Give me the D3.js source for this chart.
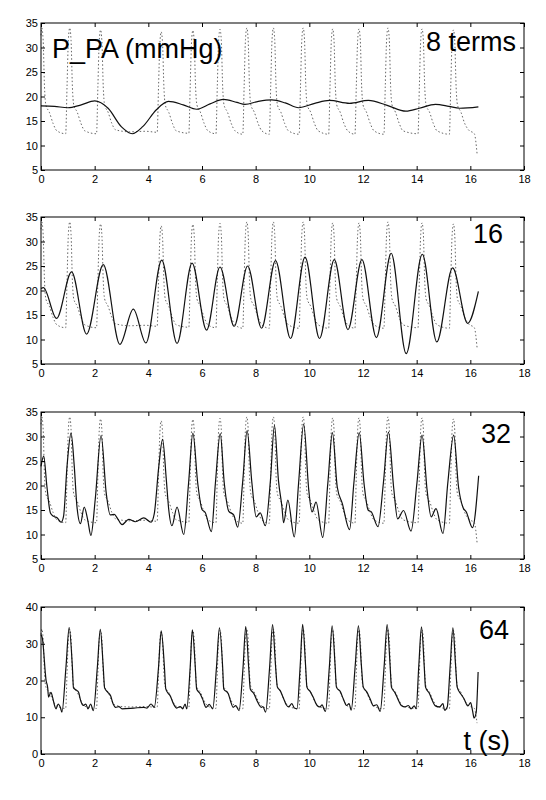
<!DOCTYPE html>
<html>
<head>
<meta charset="utf-8">
<script src="https://cdn.jsdelivr.net/npm/d3@7"></script>
<style>
  body { margin: 0; background: #fff; }
  svg text { font-family: "Liberation Sans", Arial, sans-serif; fill: #000; }
</style>
</head>
<body>
<div id="chart"></div>
<script>
// x ticks (time, s)
const tTicks = [0, 2, 4, 6, 8, 10, 12, 14, 16, 18];
const yTicksA = [5, 10, 15, 20, 25, 30, 35];
const yTicksB = [0, 10, 20, 30, 40];

// measured pressure (dotted trace), [t, mmHg]
const measured = [
  [0, 32.5], [0.03, 34.0], [0.08, 31.5], [0.13, 22], [0.18, 18.3], [0.31, 16.8], [0.45, 14.5], [0.59, 13.0], [0.92, 12.4],
  [0.97, 22], [1.02, 31.5], [1.07, 34.0], [1.12, 31.5], [1.17, 22], [1.22, 18.3], [1.35, 16.8], [1.49, 14.5], [1.63, 13.0], [2.07, 12.4],
  [2.12, 22], [2.17, 31.2], [2.22, 33.6], [2.27, 31.2], [2.32, 22], [2.37, 18.3], [2.5, 16.8], [2.64, 14.5], [2.78, 13.2], [3.3, 12.8], [3.9, 12.9], [4.33, 12.7],
  [4.38, 22], [4.43, 30.8], [4.48, 33.2], [4.53, 30.8], [4.58, 22], [4.63, 18.3], [4.76, 16.8], [4.9, 14.5], [5.04, 13.0], [5.51, 12.5],
  [5.56, 22], [5.61, 31.2], [5.66, 33.5], [5.71, 31.2], [5.76, 22], [5.81, 18.3], [5.94, 16.8], [6.08, 14.5], [6.22, 13.0], [6.52, 12.4],
  [6.57, 22], [6.62, 31.4], [6.67, 33.7], [6.72, 31.4], [6.77, 22], [6.82, 18.3], [6.95, 16.8], [7.09, 14.5], [7.23, 13.0], [7.52, 12.3],
  [7.57, 22], [7.62, 31.6], [7.67, 34.0], [7.72, 31.6], [7.77, 22], [7.82, 18.3], [7.95, 16.8], [8.09, 14.5], [8.23, 13.0], [8.51, 12.3],
  [8.56, 22], [8.61, 31.6], [8.66, 34.0], [8.71, 31.6], [8.76, 22], [8.81, 18.3], [8.94, 16.8], [9.08, 14.5], [9.22, 13.0], [9.62, 12.3],
  [9.67, 22], [9.72, 31.6], [9.77, 34.0], [9.82, 31.6], [9.87, 22], [9.92, 18.3], [10.05, 16.8], [10.19, 14.5], [10.33, 13.0], [10.72, 12.3],
  [10.77, 22], [10.82, 31.4], [10.87, 33.8], [10.92, 31.4], [10.97, 22], [11.02, 18.3], [11.15, 16.8], [11.29, 14.5], [11.43, 13.0], [11.7, 12.3],
  [11.75, 22], [11.8, 31.4], [11.85, 33.8], [11.9, 31.4], [11.95, 22], [12.0, 18.3], [12.13, 16.8], [12.27, 14.5], [12.41, 13.0], [12.78, 12.3],
  [12.83, 22], [12.88, 31.6], [12.93, 34.0], [12.98, 31.6], [13.03, 22], [13.08, 18.3], [13.21, 16.8], [13.35, 14.5], [13.49, 13.0], [14.05, 12.4],
  [14.1, 22], [14.15, 31.4], [14.2, 33.8], [14.25, 31.4], [14.3, 22], [14.35, 18.3], [14.48, 16.8], [14.62, 14.5], [14.76, 13.0], [15.22, 12.3],
  [15.27, 22], [15.32, 31.2], [15.37, 33.6], [15.42, 31.2], [15.47, 22], [15.52, 18.3], [15.65, 16.8], [15.79, 14.5], [15.93, 13.2], [16.15, 12.4], [16.25, 8.4]
];

// fourier reconstructions (solid traces)
const terms8 = [
  [0, 18.1], [0.5, 18.0], [1.0, 17.7], [1.5, 18.3], [2.0, 19.1], [2.5, 17.6], [3.0, 13.8], [3.4, 12.4], [3.8, 13.9],
  [4.3, 17.3], [4.75, 19.0], [5.3, 18.3], [5.8, 17.4], [6.3, 18.5], [6.8, 19.4], [7.3, 18.8], [7.6, 18.4], [8.1, 19.0],
  [8.6, 19.3], [9.1, 18.7], [9.6, 17.7], [10.2, 18.6], [10.75, 19.2], [11.5, 18.6], [12.2, 19.2], [12.9, 18.2],
  [13.6, 17.0], [14.1, 17.6], [14.7, 18.4], [15.2, 18.0], [15.6, 17.6], [16.3, 17.9]
];

const terms16 = [
  [0, 20.4], [0.09, 20.6], [0.58, 14.3], [1.14, 23.8], [1.7, 11.1], [2.32, 25.3], [2.94, 9.0], [3.44, 16.2],
  [3.91, 9.3], [4.5, 26.2], [5.07, 9.2], [5.63, 25.6], [6.17, 11.9], [6.67, 24.8], [7.2, 12.7], [7.7, 25.0],
  [8.22, 12.3], [8.74, 26.1], [9.3, 10.2], [9.84, 26.8], [10.38, 10.2], [10.93, 26.3], [11.44, 12.0], [11.96, 26.3],
  [12.5, 10.4], [13.05, 27.6], [13.61, 7.1], [14.21, 27.4], [14.75, 9.5], [15.34, 24.6], [15.9, 13.3], [16.3, 19.8]
];

const terms32 = [
  [0, 23.9], [0.1, 26.0], [0.22, 19.8], [0.35, 14.4], [0.47, 13.7], [0.6, 13.4], [0.75, 12.5], [0.84, 13.7],
  [0.97, 23.9], [1.12, 30.7], [1.24, 23.9], [1.34, 15.7], [1.47, 12.2], [1.61, 15.6], [1.74, 13.0], [1.86, 9.8],
  [2.02, 17.1], [2.24, 30.2], [2.43, 18.5], [2.58, 14.0], [2.73, 14.1], [2.86, 13.2], [3.02, 12.0], [3.27, 13.1],
  [3.52, 12.6], [3.83, 13.4], [4.1, 12.5], [4.22, 14.2], [4.39, 23.9], [4.53, 29.4], [4.67, 21.2], [4.76, 15.1],
  [4.88, 11.8], [5.07, 15.6], [5.32, 10.0], [5.5, 20.5], [5.66, 30.7], [5.84, 20.5], [6.0, 15.1], [6.12, 14.5],
  [6.35, 10.6], [6.5, 20.5], [6.68, 30.6], [6.83, 20.5], [7.0, 14.7], [7.18, 14.0], [7.33, 11.5], [7.52, 21.0],
  [7.68, 31.2], [7.86, 20.5], [8.02, 13.6], [8.17, 14.4], [8.36, 11.8], [8.55, 21.0], [8.7, 32.3], [8.85, 21.0],
  [8.98, 15.6], [9.04, 12.4], [9.2, 17.0], [9.44, 9.5], [9.6, 20.5], [9.79, 32.5], [9.98, 19.0], [10.1, 14.6],
  [10.25, 16.6], [10.5, 9.4], [10.69, 20.5], [10.86, 30.8], [11.04, 19.7], [11.23, 16.3], [11.5, 11.0], [11.66, 20.5],
  [11.86, 30.8], [12.04, 20.3], [12.19, 15.0], [12.31, 14.6], [12.56, 11.6], [12.76, 20.5], [12.95, 30.9], [13.14, 19.7],
  [13.29, 13.2], [13.51, 14.9], [13.79, 10.7], [14.01, 20.5], [14.2, 30.3], [14.39, 19.0], [14.54, 13.6], [14.72, 15.3],
  [14.98, 10.2], [15.16, 20.5], [15.38, 30.3], [15.56, 19.7], [15.72, 15.6], [15.85, 14.6], [16.08, 11.4], [16.31, 22.0]
];

const terms64 = [
  [0, 32.5], [0.05, 31.5], [0.19, 20.0], [0.25, 18.0], [0.28, 15.5], [0.37, 16.8], [0.43, 15.5], [0.49, 13.6],
  [0.56, 12.3], [0.64, 13.6], [0.72, 12.7], [0.78, 11.4], [0.93, 23.6], [1.05, 34.4], [1.17, 23.6], [1.21, 18.0],
  [1.33, 17.3], [1.4, 16.8], [1.48, 14.5], [1.58, 13.2], [1.67, 13.6], [1.75, 12.3], [1.85, 13.6], [1.95, 11.8],
  [2.1, 23.6], [2.21, 33.9], [2.32, 23.6], [2.37, 18.0], [2.49, 16.8], [2.59, 15.9], [2.69, 13.6], [2.78, 12.7],
  [2.9, 12.9], [3.02, 12.3], [3.46, 12.5], [3.83, 12.7], [3.95, 12.5], [4.1, 13.6], [4.22, 12.7], [4.38, 23.6],
  [4.48, 33.5], [4.6, 23.6], [4.65, 17.7], [4.75, 16.4], [4.81, 15.9], [4.94, 13.6], [5.06, 12.5], [5.19, 12.9],
  [5.28, 12.3], [5.37, 13.6], [5.43, 12.3], [5.56, 23.6], [5.64, 33.8], [5.75, 23.6], [5.8, 17.7], [5.93, 16.4],
  [6.02, 15.0], [6.15, 12.7], [6.27, 13.5], [6.4, 12.3], [6.54, 23.6], [6.65, 34.3], [6.77, 23.6], [6.81, 17.7],
  [6.98, 16.4], [7.06, 14.5], [7.16, 12.7], [7.26, 13.2], [7.38, 11.8], [7.53, 23.6], [7.63, 34.7], [7.74, 23.6],
  [7.8, 17.7], [7.93, 16.5], [8.05, 14.5], [8.21, 12.7], [8.27, 12.9], [8.37, 11.4], [8.52, 23.6], [8.63, 35.2],
  [8.74, 24.1], [8.81, 18.2], [8.91, 17.3], [9.04, 15.1], [9.14, 13.4], [9.22, 12.8], [9.35, 13.7], [9.44, 12.5],
  [9.54, 12.3], [9.66, 24.1], [9.75, 35.3], [9.86, 24.1], [9.91, 18.2], [10.04, 16.9], [10.14, 15.5], [10.29, 13.2],
  [10.39, 12.8], [10.48, 13.4], [10.54, 12.3], [10.6, 11.6], [10.75, 24.1], [10.85, 34.9], [10.96, 24.1], [11.01, 18.2],
  [11.16, 16.9], [11.26, 15.1], [11.39, 13.2], [11.48, 13.7], [11.56, 11.9], [11.71, 24.1], [11.83, 34.9], [11.94, 24.1],
  [12.01, 18.2], [12.14, 16.9], [12.26, 15.1], [12.39, 13.1], [12.51, 13.4], [12.64, 11.6], [12.79, 24.1], [12.9, 35.2],
  [13.01, 24.1], [13.06, 18.2], [13.19, 16.7], [13.29, 15.1], [13.44, 13.1], [13.56, 12.8], [13.69, 13.2], [13.79, 12.3],
  [13.91, 13.1], [13.98, 12.3], [14.08, 24.1], [14.18, 34.6], [14.28, 24.1], [14.33, 18.2], [14.48, 16.4], [14.58, 14.6],
  [14.7, 13.1], [14.85, 12.8], [14.98, 13.7], [15.04, 11.9], [15.14, 12.8], [15.25, 24.1], [15.35, 34.3], [15.45, 24.1],
  [15.51, 18.2], [15.64, 16.4], [15.76, 15.1], [15.91, 13.1], [16.01, 14.0], [16.08, 11.9], [16.14, 9.8], [16.22, 11.4],
  [16.29, 22.3]
];

const panelLabels = ["8 terms", "16", "32", "64"];

// layout
const W = 546, H = 800;
const left = 41, right = 524, panelH = 147;
const panelTops = [23, 217, 412, 607];
const labelPos = [[516, 51], [503, 243], [511, 443], [509, 639]];

const svg = d3.select("#chart").append("svg")
  .attr("width", W).attr("height", H);

const x = d3.scaleLinear().domain([0, 18]).range([left, right]);

const panels = [
  { fit: terms8, domain: [5, 35], ticks: yTicksA },
  { fit: terms16, domain: [5, 35], ticks: yTicksA },
  { fit: terms32, domain: [5, 35], ticks: yTicksA },
  { fit: terms64, domain: [0, 40], ticks: yTicksB }
];

panels.forEach((p, i) => {
  const top = panelTops[i];
  const y = d3.scaleLinear().domain(p.domain).range([top + panelH, top]);
  const g = svg.append("g");

  const line = d3.line()
    .x(d => x(d[0]))
    .y(d => y(d[1]))
    .curve(d3.curveMonotoneX);

  // measured signal, dotted
  g.append("path")
    .datum(measured)
    .attr("fill", "none")
    .attr("stroke", "#666")
    .attr("stroke-width", 1)
    .attr("stroke-dasharray", "1.5,2.2")
    .attr("d", line);

  // reconstruction
  g.append("path")
    .datum(p.fit)
    .attr("fill", "none")
    .attr("stroke", "#111")
    .attr("stroke-width", 1.2)
    .attr("d", line);

  // axes, matlab style: inward ticks on all four sides
  const fontSize = "11px";
  const bottom = g.append("g")
    .attr("transform", `translate(0,${top + panelH})`)
    .call(d3.axisBottom(x).tickValues(tTicks).tickSizeInner(-4).tickSizeOuter(0).tickPadding(5));
  const topAx = g.append("g")
    .attr("transform", `translate(0,${top})`)
    .call(d3.axisTop(x).tickValues(tTicks).tickSizeInner(-4).tickSizeOuter(0).tickFormat(""));
  const leftAx = g.append("g")
    .attr("transform", `translate(${left},0)`)
    .call(d3.axisLeft(y).tickValues(p.ticks).tickSizeInner(-4).tickSizeOuter(0).tickPadding(3));
  const rightAx = g.append("g")
    .attr("transform", `translate(${right},0)`)
    .call(d3.axisRight(y).tickValues(p.ticks).tickSizeInner(-4).tickSizeOuter(0).tickFormat(""));

  [bottom, topAx, leftAx, rightAx].forEach(a => {
    a.select(".domain").remove();
    a.selectAll("line").attr("stroke", "#000");
    a.selectAll("text").style("font-size", fontSize).attr("fill", "#000");
  });

  g.append("rect")
    .attr("x", left).attr("y", top)
    .attr("width", right - left).attr("height", panelH)
    .attr("fill", "none").attr("stroke", "#000").attr("stroke-width", 1);

  g.append("text")
    .attr("x", labelPos[i][0]).attr("y", labelPos[i][1])
    .attr("text-anchor", "end")
    .style("font-size", "27px")
    .text(panelLabels[i]);
});

svg.append("text")
  .attr("x", 52).attr("y", 58)
  .style("font-size", "27px")
  .text("P_PA (mmHg)");

svg.append("text")
  .attr("x", 510).attr("y", 750)
  .attr("text-anchor", "end")
  .style("font-size", "27px")
  .text("t (s)");
</script>
</body>
</html>
